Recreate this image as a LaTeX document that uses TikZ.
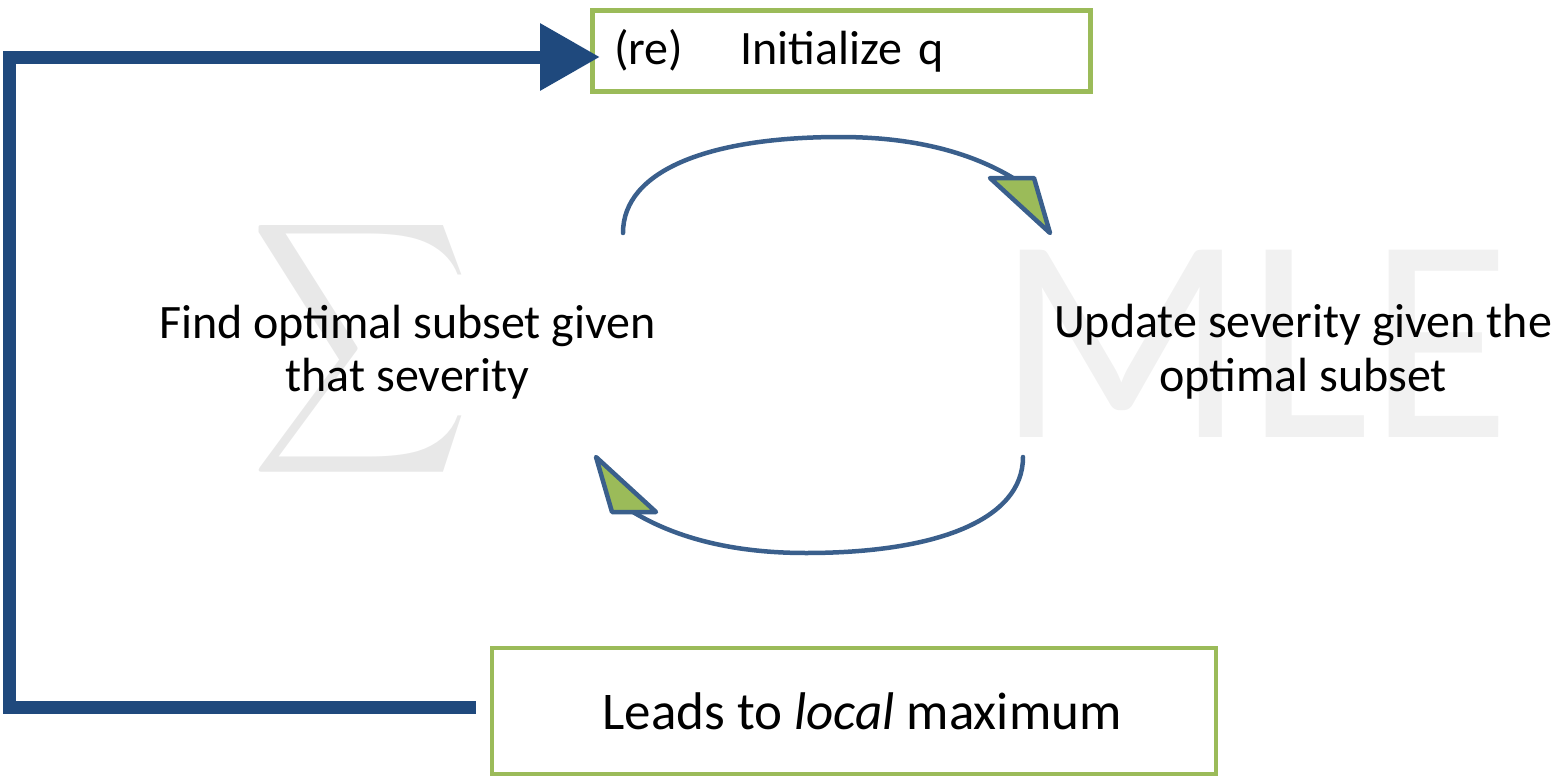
\documentclass[tikz,border=0pt]{standalone}
\usepackage{fontspec}
\setmainfont{Carlito}
\usepackage{graphicx}
\usetikzlibrary{arrows.meta}
\definecolor{boxgreen}{RGB}{155,187,89}
\definecolor{darkblue}{RGB}{31,73,125}
\definecolor{arcblue}{RGB}{58,95,140}
\definecolor{sigmagray}{RGB}{232,232,232}
\definecolor{mlegray}{RGB}{241,241,241}
\begin{document}
\begin{tikzpicture}[x=0.5pt,y=-0.5pt,
  greenbox/.style={draw=boxgreen,line width=2.25pt,inner sep=0pt},
  bodyfont/.style={font=\fontsize{24}{26.75}\selectfont},
  body/.style={bodyfont,align=center,inner sep=0pt},
  loopline/.style={draw=arcblue,line width=2.25pt,line cap=round},
  loophead/.style={draw=arcblue,fill=boxgreen,line width=2.25pt,line join=round},
  backline/.style={draw=darkblue,line width=6.5pt}]
\useasboundingbox (0,0) rectangle (1560,776);
% watermarks
\node[inner sep=0pt,text=sigmagray] (sigma) at (360.5,349) {\resizebox*{110pt}{141pt}{$\displaystyle\sum$}};
\node[anchor=base west,inner sep=0pt,text=mlegray,font=\fontsize{146}{146}\selectfont] (mle) at (996,437) {MLE};
% boxes and texts
\node[greenbox,anchor=north west,minimum height=40.5pt,text width=227pt,inner xsep=11pt,align=left,bodyfont] (init) at (590,8) {(re)\hspace{28.5pt}Initialize q};
\node[body] (find) at (407.5,352) {Find optimal subset given\\that severity};
\node[body] (update) at (1303,351.5) {Update severity given the\\optimal subset};
\node[greenbox,minimum width=362pt,minimum height=63pt,font=\fontsize{26.5}{30}\selectfont] (local) at (854,711) {\hspace{8pt}Leads to \textit{local} maximum};
% feedback arrow
\coordinate (tip) at (600,57);
\draw[backline,-{Triangle[length=30pt,width=32pt]}] ([shift={(-7pt,2pt)}]local.west) -- ++(-466,0) |- (tip);
% loop arrows
\coordinate (a1s) at (623,233);
\coordinate (a1e) at (1013,178);
\draw[loopline] (a1s) .. controls (623,170) and (710,137) .. (840,137) .. controls (920,137) and (975,155) .. (a1e);
\filldraw[loophead] (990,178) -- (1034,178) -- (1050,233) -- cycle;
\coordinate (a2s) at (1023,457);
\coordinate (a2e) at (633,512);
\draw[loopline] (a2s) .. controls (1023,520) and (936,553) .. (806,553) .. controls (726,553) and (671,535) .. (a2e);
\filldraw[loophead] (656,512) -- (612,512) -- (596,457) -- cycle;
\end{tikzpicture}
\end{document}
